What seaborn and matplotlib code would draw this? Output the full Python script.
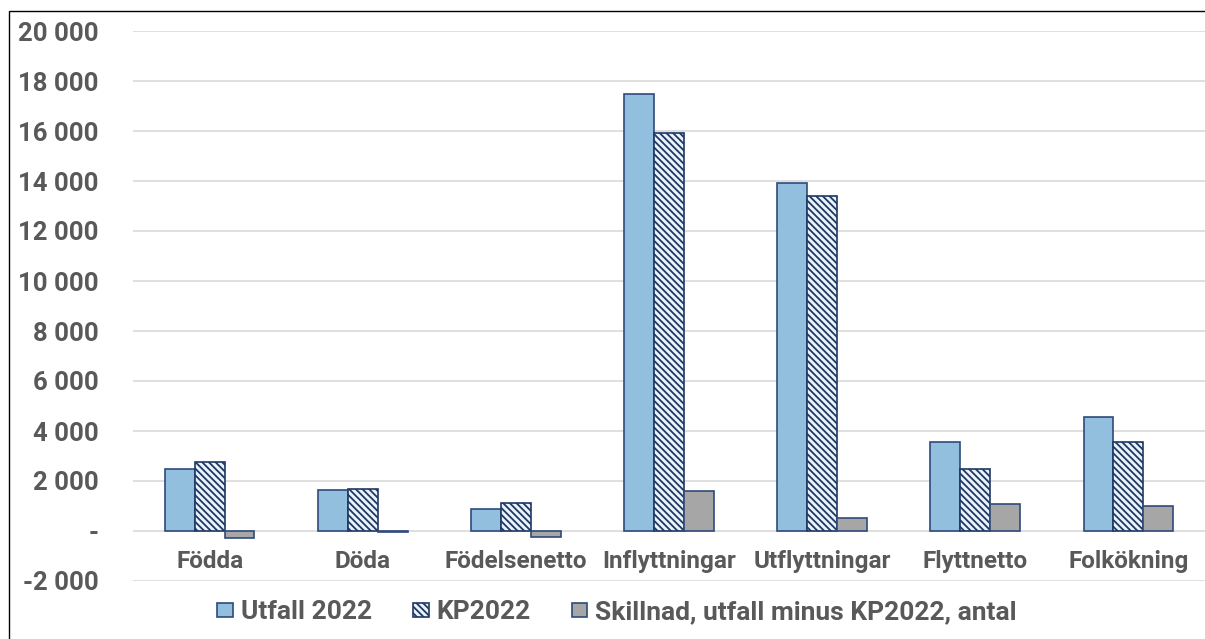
import pandas as pd
import matplotlib.pyplot as plt
import seaborn as sns
from matplotlib.patches import Patch, Rectangle
from matplotlib.ticker import FuncFormatter

categories = ["Födda", "Döda", "Födelsenetto", "Inflyttningar",
              "Utflyttningar", "Flyttnetto", "Folkökning"]
utfall_2022 = [2480, 1640, 880, 17480, 13920, 3560, 4560]
kp2022 = [2760, 1680, 1120, 15920, 13400, 2480, 3560]
skillnad = [-280, -40, -240, 1600, 520, 1080, 1000]

series = ["Utfall 2022", "KP2022", "Skillnad, utfall minus KP2022, antal"]

data = pd.DataFrame({
    "kategori": categories * 3,
    "serie": [s for s in series for _ in categories],
    "antal": utfall_2022 + kp2022 + skillnad,
})

sns.set_style("white")
plt.rcParams["font.family"] = ["Roboto", "DejaVu Sans"]
plt.rcParams["font.weight"] = "bold"
plt.rcParams["hatch.linewidth"] = 1.3

TEXT = "#595959"
EDGE = "#2F4A7A"
FS = 17.5
HATCH = "\\" * 5
face = {"Utfall 2022": "#93BFDF", "KP2022": "#EAF2FA",
        "Skillnad, utfall minus KP2022, antal": "#A6A6A6"}

fig = plt.figure(figsize=(12.05, 6.39), dpi=100)
ax = fig.add_axes([133 / 1205, 1 - 581 / 639, 1 - 133 / 1205, (581 - 31) / 639])

sns.barplot(data=data, x="kategori", y="antal", hue="serie", hue_order=series,
            palette=face, width=0.585, gap=0, edgecolor=EDGE, linewidth=1.2,
            saturation=1, ax=ax, legend=False)

for bar in ax.containers[1]:
    bar.set_hatch(HATCH)
    bar.set_edgecolor("#1F3864")

# ===== axes & grid =====
ax.set_ylim(-2000, 20000)
ax.set_yticks(range(-2000, 20001, 2000))
ax.yaxis.set_major_formatter(FuncFormatter(
    lambda v, p: "-" if v == 0 else f"{int(v):,}".replace(",", " ")))
ax.grid(axis="y", color="#D9D9D9", linewidth=1.2)
ax.set_axisbelow(True)
for side in ["top", "right", "left"]:
    ax.spines[side].set_visible(False)
ax.spines["bottom"].set_position(("data", 0))
ax.spines["bottom"].set_visible(False)
ax.set_xlabel("")
ax.set_ylabel("")
ax.tick_params(axis="y", length=0, pad=25, labelsize=18.5, labelcolor=TEXT)
ax.tick_params(axis="x", length=0, pad=14, labelsize=FS, labelcolor=TEXT)

# ===== legend =====
handles = [
    Patch(facecolor=face[series[0]], edgecolor=EDGE, linewidth=1.2),
    Patch(facecolor=face[series[1]], edgecolor="#1F3864", linewidth=1.2, hatch=HATCH),
    Patch(facecolor=face[series[2]], edgecolor=EDGE, linewidth=1.2),
]
leg = fig.legend(handles, series, loc="center", bbox_to_anchor=(617 / 1205, 1 - 612 / 639),
                 ncol=3, frameon=False, handlelength=0.6, handleheight=0.45,
                 handletextpad=0.3, columnspacing=1.55,
                 prop={"weight": "bold", "size": 19})
for t in leg.get_texts():
    t.set_color(TEXT)

fig.patches.append(Rectangle((9 / 1205, -0.1), 1.2, 1.1 - 11 / 639, fill=False,
                             edgecolor="black", linewidth=1, transform=fig.transFigure))

fig.savefig("out.png", dpi=100)
plt.close()
